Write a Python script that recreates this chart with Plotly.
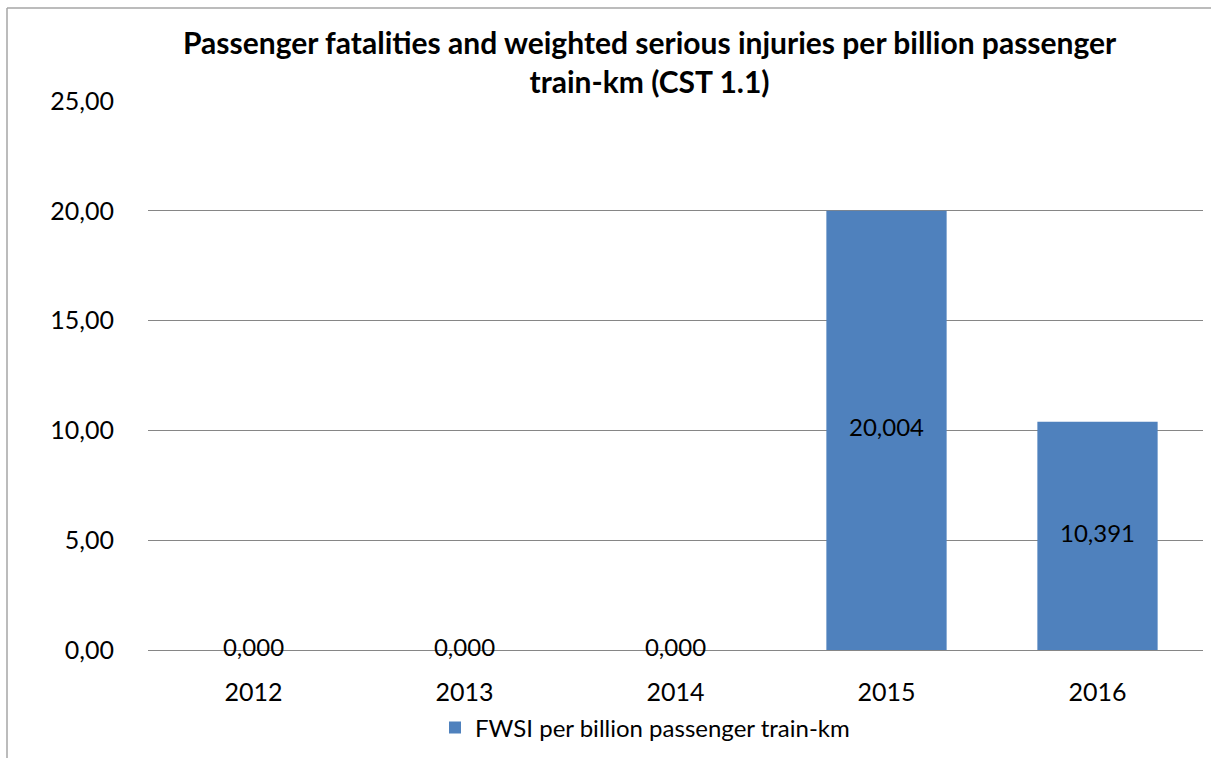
import plotly.graph_objects as go

years = ["2012", "2013", "2014", "2015", "2016"]
values = [0.0, 0.0, 0.0, 20.004, 10.391]
series_name = "FWSI per billion passenger train-km"
title_text = "Passenger fatalities and weighted serious injuries per billion passenger<br>train-km (CST 1.1)"
y_ticks = [0, 5, 10, 15, 20, 25]

FONT = "Lato"
BLUE = "#4F81BD"

labels = [f"{v:.3f}".replace(".", ",") for v in values]

fig = go.Figure()
fig.add_trace(go.Bar(
    x=years, y=values, name=series_name,
    marker=dict(color=BLUE, line=dict(width=0)),
    width=0.57, showlegend=True,
))
fig.add_trace(go.Scatter(
    x=years, y=[v / 2 for v in values], mode="text", text=labels,
    textposition="middle center",
    textfont=dict(family=FONT, size=24, color="#000000"),
    showlegend=False, hoverinfo="skip", cliponaxis=False,
))

L, R, T, B = 148, 8, 101, 108
W, H = 1211, 758
pw = W - L - R
ph = H - T - B

def px2paper_x(px):
    return (px - L) / pw

def px2paper_y(py):
    return (H - B - py) / ph

fig.update_layout(
    width=W, height=H,
    margin=dict(l=L, r=R, t=T, b=B, autoexpand=False),
    paper_bgcolor="white", plot_bgcolor="white",
    separators=", ",
    font=dict(family=FONT, color="#000000"),
    bargap=0.43,
    showlegend=True,
    legend=dict(
        orientation="h", x=px2paper_x(645), xanchor="center",
        y=px2paper_y(728), yanchor="middle",
        font=dict(family=FONT, size=24, color="#000000"),
        bgcolor="rgba(0,0,0,0)", itemsizing="constant",
    ),
    xaxis=dict(
        type="category", showgrid=False, zeroline=False, showline=False,
        ticks="outside", ticklen=20, tickcolor="rgba(0,0,0,0)",
        tickfont=dict(family=FONT, size=25, color="#000000"),
    ),
    yaxis=dict(
        range=[0, 25], tickvals=y_ticks, tickformat=".2f",
        showgrid=True, gridcolor="#868686", gridwidth=1,
        zeroline=True, zerolinecolor="#868686", zerolinewidth=1,
        showline=False, ticks="outside", ticklen=28, tickcolor="rgba(0,0,0,0)",
        tickfont=dict(family=FONT, size=25, color="#000000"),
    ),
    annotations=[dict(
        text="<b>" + title_text.replace("<br>", "</b><br><b>") + "</b>",
        xref="paper", yref="paper", x=px2paper_x(650), y=px2paper_y(62),
        xanchor="center", yanchor="middle", showarrow=False,
        font=dict(family=FONT, size=30, color="#000000"),
    )],
    shapes=[
        dict(type="line", xref="paper", yref="paper",
             x0=px2paper_x(7), x1=px2paper_x(1215), y0=px2paper_y(8), y1=px2paper_y(8),
             line=dict(color="#A6A6A6", width=1.5)),
        dict(type="line", xref="paper", yref="paper",
             x0=px2paper_x(7), x1=px2paper_x(7), y0=px2paper_y(8), y1=px2paper_y(765),
             line=dict(color="#A6A6A6", width=1.5)),
    ],
)

fig.write_html("out.html")
